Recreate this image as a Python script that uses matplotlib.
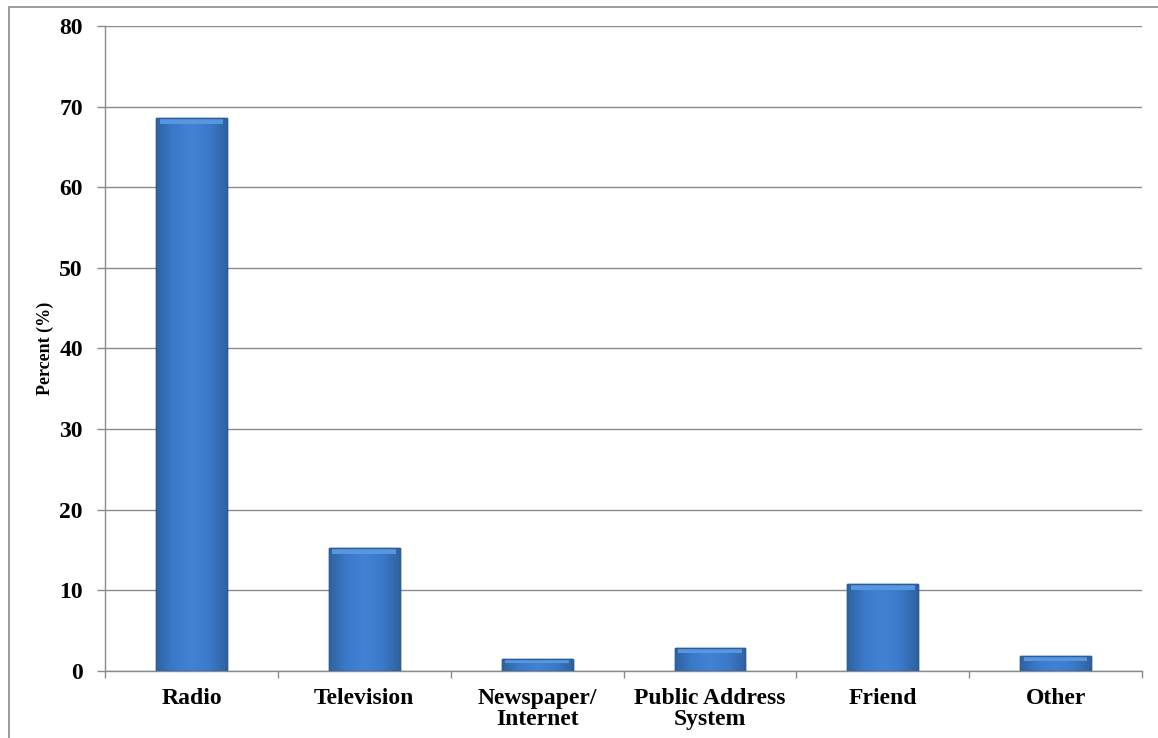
import numpy as np
import matplotlib
matplotlib.use("Agg")
import matplotlib.pyplot as plt
from matplotlib.patches import Rectangle
from matplotlib.colors import LinearSegmentedColormap

# Data
categories = ["Radio", "Television", "Newspaper/\nInternet",
              "Public Address\nSystem", "Friend", "Other"]
percent = [68.6, 15.2, 1.5, 2.9, 10.8, 1.8]
yticks = [0, 10, 20, 30, 40, 50, 60, 70, 80]

plt.rcParams["font.family"] = ["Liberation Serif", "DejaVu Serif"]
plt.rcParams["font.weight"] = "bold"

fig = plt.figure(figsize=(11.58, 7.38), dpi=100)
ax = fig.add_axes([0.0907, 0.0908, 0.8955, 0.874])

# outer frame of the chart area
fig.patches.append(Rectangle((0.0078, -0.05), 1.1, 1.041, transform=fig.transFigure,
                             fill=False, edgecolor="#8a8a8a", linewidth=1.2))

x = np.arange(len(categories))
width = 0.41
bars = ax.bar(x, percent, width, color="#3b7bcf", edgecolor="#2b5c9c",
              linewidth=1.0, zorder=3)

# shaded bevel look: dark edges, light centre, lighter top band
shade = LinearSegmentedColormap.from_list(
    "shade", ["#30629f", "#3b7acb", "#4282d4", "#3b7acb", "#30629f"])
grad = np.linspace(0, 1, 200).reshape(1, -1)
for b, h in zip(bars, percent):
    x0 = b.get_x()
    w = b.get_width()
    im = ax.imshow(grad, cmap=shade, aspect="auto", extent=(x0, x0 + w, 0, h),
                   zorder=4, interpolation="bicubic")
    im.set_clip_path(b)
    top = min(0.7, h * 0.3)
    ax.add_patch(Rectangle((x0 + w * 0.05, h - top), w * 0.9, top,
                           facecolor="#5797e0", edgecolor="none", zorder=5))
    ax.add_patch(Rectangle((x0, 0), w, h, fill=False, edgecolor="#2b5c9c",
                           linewidth=1.0, zorder=6))

ax.set_xlim(-0.5, len(categories) - 0.5)
ax.set_ylim(0, 80)
ax.set_yticks(yticks)
ax.set_yticklabels([str(v) for v in yticks], fontsize=17, fontweight="bold")
ax.set_xticks(x)
ax.set_xticklabels(categories, fontsize=17, fontweight="bold", linespacing=1.05)
ax.set_xticks(np.arange(-0.5, len(categories), 1.0), minor=True)
ax.tick_params(axis="x", which="major", length=0, pad=12)
ax.tick_params(axis="x", which="minor", length=5, color="#8a8a8a", width=1)
ax.tick_params(axis="y", length=6, color="#8a8a8a", width=1, pad=10)

ax.grid(axis="y", color="#8a8a8a", linewidth=1.0, zorder=0)
ax.set_axisbelow(True)
for side in ["top", "right"]:
    ax.spines[side].set_visible(False)
for side in ["left", "bottom"]:
    ax.spines[side].set_color("#8a8a8a")
    ax.spines[side].set_linewidth(1.0)

ax.set_ylabel("Percent (%)", fontsize=13, fontweight="bold", labelpad=4)

fig.savefig("out.png", dpi=100)
